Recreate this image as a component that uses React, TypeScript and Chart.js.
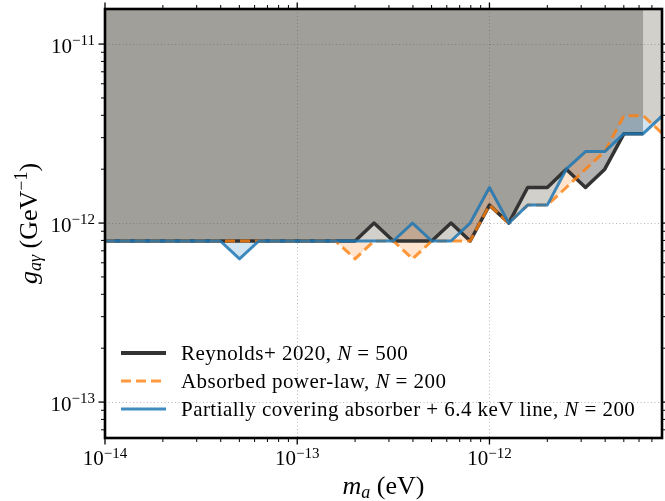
import React, { useEffect, useRef } from 'react';
import { Chart, registerables } from 'chart.js';

Chart.register(...registerables);

// Axion mass grid (eV)
const masses = [
  1.00e-14, 1.26e-14, 1.58e-14, 2.00e-14, 2.51e-14, 3.16e-14, 3.98e-14, 5.01e-14, 6.31e-14, 7.94e-14,
  1.00e-13, 1.26e-13, 1.58e-13, 2.00e-13, 2.51e-13, 3.16e-13, 3.98e-13, 5.01e-13, 6.31e-13, 7.94e-13,
  1.00e-12, 1.26e-12, 1.58e-12, 2.00e-12, 2.51e-12, 3.16e-12, 3.98e-12, 5.01e-12, 6.31e-12, 7.94e-12,
];

// Upper limits on g_{a gamma} (GeV^-1)
const reynolds = [
  7.94e-13, 7.94e-13, 7.94e-13, 7.94e-13, 7.94e-13, 7.94e-13, 7.94e-13, 7.94e-13, 7.94e-13, 7.94e-13,
  7.94e-13, 7.94e-13, 7.94e-13, 7.94e-13, 1.00e-12, 7.94e-13, 7.94e-13, 7.94e-13, 1.00e-12, 7.94e-13,
  1.26e-12, 1.00e-12, 1.58e-12, 1.58e-12, 2.00e-12, 1.58e-12, 2.00e-12, 3.16e-12, 3.16e-12,
];
const absorbed = [
  7.94e-13, 7.94e-13, 7.94e-13, 7.94e-13, 7.94e-13, 7.94e-13, 7.94e-13, 7.94e-13, 7.94e-13, 7.94e-13,
  7.94e-13, 7.94e-13, 7.94e-13, 6.31e-13, 7.94e-13, 7.94e-13, 6.31e-13, 7.94e-13, 7.94e-13, 7.94e-13,
  1.26e-12, 1.00e-12, 1.26e-12, 1.26e-12, 1.58e-12, 2.00e-12, 2.51e-12, 3.98e-12, 3.98e-12, 3.16e-12,
];
const partial = [
  7.94e-13, 7.94e-13, 7.94e-13, 7.94e-13, 7.94e-13, 7.94e-13, 7.94e-13, 6.31e-13, 7.94e-13, 7.94e-13,
  7.94e-13, 7.94e-13, 7.94e-13, 7.94e-13, 7.94e-13, 7.94e-13, 1.00e-12, 7.94e-13, 7.94e-13, 1.00e-12,
  1.58e-12, 1.00e-12, 1.26e-12, 1.26e-12, 2.00e-12, 2.51e-12, 2.51e-12, 3.16e-12, 3.16e-12, 3.98e-12,
];

const seriesLabels = ['Reynolds+ 2020', 'Absorbed power-law', 'Partially covering absorber + 6.4 keV line'];
const seriesN = ['500', '200', '200'];

const xMajorTicks = [1e-14, 1e-13, 1e-12];
const xMajorExp = ['−14', '−13', '−12'];
const xMinorTicks = [
  2e-14, 3e-14, 4e-14, 5e-14, 6e-14, 7e-14, 8e-14, 9e-14,
  2e-13, 3e-13, 4e-13, 5e-13, 6e-13, 7e-13, 8e-13, 9e-13,
  2e-12, 3e-12, 4e-12, 5e-12, 6e-12, 7e-12,
];
const yMajorTicks = [1e-13, 1e-12, 1e-11];
const yMajorExp = ['−13', '−12', '−11'];
const yMinorTicks = [
  7e-14, 8e-14, 9e-14,
  2e-13, 3e-13, 4e-13, 5e-13, 6e-13, 7e-13, 8e-13, 9e-13,
  2e-12, 3e-12, 4e-12, 5e-12, 6e-12, 7e-12, 8e-12, 9e-12,
];

const X_MIN = 1e-14;
const X_MAX = 7.9e-12;
const Y_MIN = 6.3e-14;
const Y_MAX = 1.57e-11;

const FONT = '"Liberation Serif", "DejaVu Serif", serif';

type Seg = { t: string; s: number; it?: boolean; dy?: number };

function setFont(ctx: CanvasRenderingContext2D, sg: Seg) {
  ctx.font = `${sg.it ? 'italic ' : ''}${sg.s}px ${FONT}`;
}
function segsWidth(ctx: CanvasRenderingContext2D, segs: Seg[]) {
  let w = 0;
  for (const sg of segs) {
    setFont(ctx, sg);
    w += ctx.measureText(sg.t).width;
  }
  return w;
}
function drawSegs(ctx: CanvasRenderingContext2D, segs: Seg[], x: number, y: number) {
  let cx = x;
  for (const sg of segs) {
    setFont(ctx, sg);
    ctx.fillText(sg.t, cx, y + (sg.dy || 0));
    cx += ctx.measureText(sg.t).width;
  }
}

const lineStyles = [
  { color: '#333333', width: 3.5, dash: [] as number[] },
  { color: 'rgba(255,127,14,0.8)', width: 3, dash: [10, 5] },
  { color: 'rgba(31,119,180,0.85)', width: 3, dash: [] as number[] },
];

const decor = {
  id: 'decor',
  beforeDraw(chart: any) {
    const { ctx, chartArea: a, scales } = chart;
    const xs = scales.x;
    const ys = scales.y;
    ctx.save();
    ctx.strokeStyle = 'rgba(175,175,175,0.9)';
    ctx.lineWidth = 1;
    ctx.setLineDash([1, 2.5]);
    for (const v of xMajorTicks) {
      const px = Math.round(xs.getPixelForValue(v)) + 0.5;
      if (px > a.left + 2 && px < a.right - 2) {
        ctx.beginPath();
        ctx.moveTo(px, a.top);
        ctx.lineTo(px, a.bottom);
        ctx.stroke();
      }
    }
    for (const v of yMajorTicks) {
      const py = Math.round(ys.getPixelForValue(v)) + 0.5;
      if (py > a.top + 2 && py < a.bottom - 2) {
        ctx.beginPath();
        ctx.moveTo(a.left, py);
        ctx.lineTo(a.right, py);
        ctx.stroke();
      }
    }
    ctx.restore();
  },
  afterDraw(chart: any) {
    const { ctx, chartArea: a, scales } = chart;
    const xs = scales.x;
    const ys = scales.y;
    ctx.save();
    ctx.strokeStyle = '#000';
    ctx.fillStyle = '#000';
    ctx.setLineDash([]);

    // ticks (outward, all four sides)
    const tick = (x1: number, y1: number, x2: number, y2: number, w: number) => {
      ctx.lineWidth = w;
      ctx.beginPath();
      ctx.moveTo(x1, y1);
      ctx.lineTo(x2, y2);
      ctx.stroke();
    };
    const MAJ = 6.5, MIN = 4;
    for (const v of xMajorTicks) {
      const px = xs.getPixelForValue(v);
      tick(px, a.bottom, px, a.bottom + MAJ, 1.3);
      tick(px, a.top, px, a.top - MAJ, 1.3);
    }
    for (const v of xMinorTicks) {
      const px = xs.getPixelForValue(v);
      tick(px, a.bottom, px, a.bottom + MIN, 1);
      tick(px, a.top, px, a.top - MIN, 1);
    }
    for (const v of yMajorTicks) {
      const py = ys.getPixelForValue(v);
      tick(a.left, py, a.left - MAJ, py, 1.3);
      tick(a.right, py, a.right + MAJ, py, 1.3);
    }
    for (const v of yMinorTicks) {
      const py = ys.getPixelForValue(v);
      tick(a.left, py, a.left - MIN, py, 1);
      tick(a.right, py, a.right + MIN, py, 1);
    }

    // frame
    ctx.lineWidth = 2.6;
    ctx.strokeRect(a.left, a.top, a.right - a.left, a.bottom - a.top);

    // tick labels
    ctx.textBaseline = 'alphabetic';
    ctx.textAlign = 'left';
    xMajorTicks.forEach((v, i) => {
      const segs: Seg[] = [{ t: '10', s: 21 }, { t: xMajorExp[i], s: 15, dy: -7.5 }];
      const w = segsWidth(ctx, segs);
      const px = xs.getPixelForValue(v);
      drawSegs(ctx, segs, px - w / 2, a.bottom + 27);
    });
    yMajorTicks.forEach((v, i) => {
      const segs: Seg[] = [{ t: '10', s: 21 }, { t: yMajorExp[i], s: 15, dy: -7.5 }];
      const w = segsWidth(ctx, segs);
      const py = ys.getPixelForValue(v);
      drawSegs(ctx, segs, a.left - 10 - w, py + 8.5);
    });

    // axis titles
    const xt: Seg[] = [{ t: 'm', s: 26, it: true }, { t: 'a', s: 18, it: true, dy: 4 }, { t: ' (eV)', s: 26 }];
    const xw = segsWidth(ctx, xt);
    drawSegs(ctx, xt, (a.left + a.right) / 2 - xw / 2, 494);

    const yt: Seg[] = [
      { t: 'g', s: 26, it: true },
      { t: 'aγ', s: 18, it: true, dy: 4 },
      { t: ' (GeV', s: 26 },
      { t: '−1', s: 18, dy: -10 },
      { t: ')', s: 26 },
    ];
    const yw = segsWidth(ctx, yt);
    ctx.save();
    ctx.translate(37, (a.top + a.bottom) / 2);
    ctx.rotate(-Math.PI / 2);
    drawSegs(ctx, yt, -yw / 2, 0);
    ctx.restore();

    // legend (no frame)
    const rowY = [353, 381, 409];
    seriesLabels.forEach((lab, i) => {
      const st = lineStyles[i];
      ctx.save();
      ctx.strokeStyle = st.color;
      ctx.lineWidth = i === 0 ? 4 : st.width;
      ctx.setLineDash(st.dash);
      ctx.lineCap = 'butt';
      ctx.beginPath();
      ctx.moveTo(121, rowY[i]);
      ctx.lineTo(166, rowY[i]);
      ctx.stroke();
      ctx.restore();
      ctx.save();
      (ctx as any).letterSpacing = '0.45px';
      const segs: Seg[] = [
        { t: lab + ', ', s: 21 },
        { t: 'N', s: 21, it: true },
        { t: ' = ' + seriesN[i], s: 21 },
      ];
      drawSegs(ctx, segs, 181, rowY[i] + 7);
      ctx.restore();
    });
    ctx.restore();
  },
};

export default function App() {
  const ref = useRef<HTMLCanvasElement | null>(null);
  useEffect(() => {
    const canvas = ref.current;
    if (!canvas) return;
    const mk = (ys: number[]) => ys.map((y, i) => ({ x: masses[i], y }));
    const chart = new Chart(canvas, {
      type: 'line',
      data: {
        datasets: [
          {
            label: seriesLabels[0],
            data: mk(reynolds),
            borderColor: lineStyles[0].color,
            borderWidth: lineStyles[0].width,
            backgroundColor: 'rgba(0,0,0,0.3)',
            fill: 'end',
            pointRadius: 0,
            tension: 0,
            order: 3,
          },
          {
            label: seriesLabels[1],
            data: mk(absorbed),
            borderColor: lineStyles[1].color,
            borderWidth: lineStyles[1].width,
            borderDash: lineStyles[1].dash,
            backgroundColor: 'rgba(255,127,14,0.2)',
            fill: 'end',
            pointRadius: 0,
            tension: 0,
            order: 2,
          },
          {
            label: seriesLabels[2],
            data: mk(partial),
            borderColor: lineStyles[2].color,
            borderWidth: lineStyles[2].width,
            backgroundColor: 'rgba(31,119,180,0.2)',
            fill: 'end',
            pointRadius: 0,
            tension: 0,
            order: 1,
          },
        ],
      },
      options: {
        responsive: false,
        animation: false,
        devicePixelRatio: 1,
        layout: { padding: { left: 105, right: 3, top: 9, bottom: 63 } },
        elements: { line: { borderJoinStyle: 'round', borderCapStyle: 'butt' } },
        scales: {
          x: {
            type: 'logarithmic',
            min: X_MIN,
            max: X_MAX,
            grid: { display: false, drawTicks: false },
            border: { display: false },
            ticks: { display: false },
          },
          y: {
            type: 'logarithmic',
            min: Y_MIN,
            max: Y_MAX,
            grid: { display: false, drawTicks: false },
            border: { display: false },
            ticks: { display: false },
          },
        },
        plugins: {
          legend: { display: false },
          tooltip: { enabled: false },
          filler: { propagate: false, drawTime: 'beforeDatasetsDraw' },
        },
      } as any,
      plugins: [decor],
    });
    return () => chart.destroy();
  }, []);
  return (
    <div style={{ position: 'absolute', left: 0, top: 0, width: 665, height: 501, background: '#fff' }}>
      <canvas ref={ref} width={665} height={501} style={{ display: 'block', width: 665, height: 501 }} />
    </div>
  );
}
